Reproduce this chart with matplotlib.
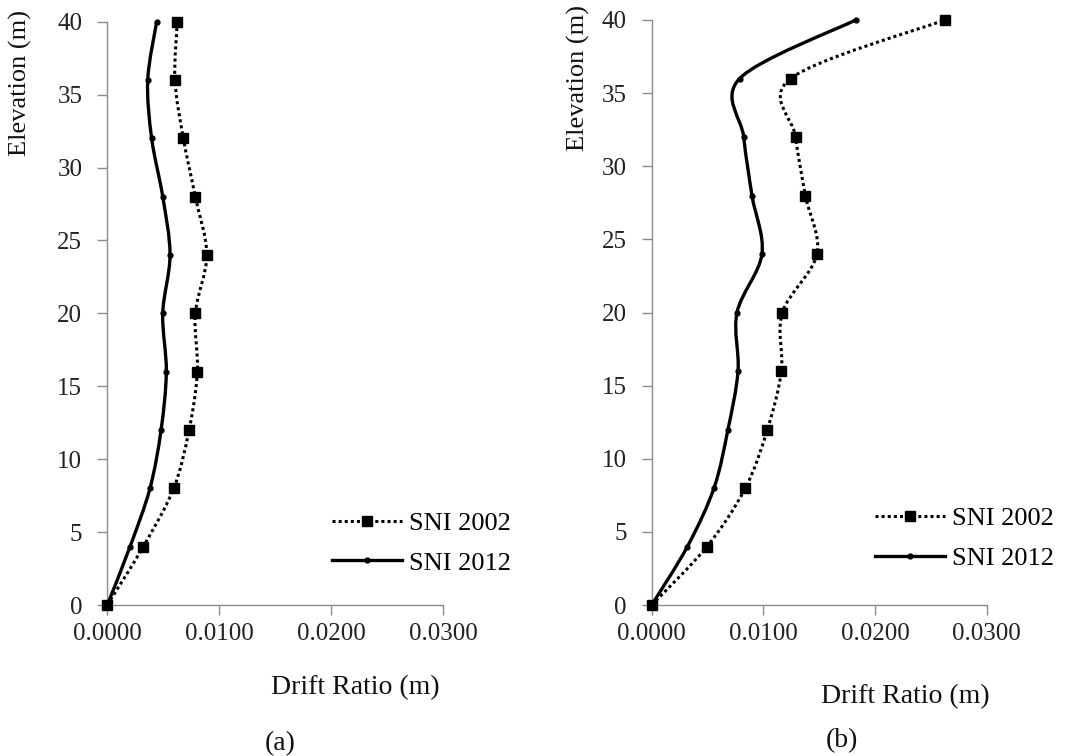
import numpy as np
import matplotlib
matplotlib.use("Agg")
import matplotlib.pyplot as plt
from matplotlib.path import Path
from matplotlib.patches import PathPatch
from matplotlib.lines import Line2D

# ---------------- data ----------------
elevation = [0, 4, 8, 12, 16, 20, 24, 28, 32, 36, 40]

a_sni2002 = [0.0, 0.00321, 0.00593, 0.00730, 0.00804, 0.00786, 0.00888, 0.00786, 0.00679, 0.00604, 0.00625]
a_sni2012 = [0.0, 0.00203, 0.00381, 0.00480, 0.00527, 0.00495, 0.00560, 0.00495, 0.00396, 0.00361, 0.00441]

b_sni2002 = [0.0, 0.00495, 0.00839, 0.01036, 0.01161, 0.01170, 0.01480, 0.01376, 0.01289, 0.01244, 0.02623]
b_sni2012 = [0.0, 0.00320, 0.00558, 0.00683, 0.00773, 0.00764, 0.00987, 0.00898, 0.00824, 0.00788, 0.01826]

x_ticks = [0.0, 0.01, 0.02, 0.03]
x_tick_labels = ["0.0000", "0.0100", "0.0200", "0.0300"]
y_ticks = [0, 5, 10, 15, 20, 25, 30, 35, 40]
series_labels = ["SNI 2002", "SNI 2012"]
xlabel = "Drift Ratio (m)"
ylabel = "Elevation (m)"
panel_labels = ["(a)", "(b)"]

FONT = "Liberation Serif"
W, H = 1068, 756


def smooth_path(xs, ys):
    pts = np.column_stack([xs, ys]).astype(float)
    n = len(pts)
    verts = [pts[0]]
    codes = [Path.MOVETO]
    for i in range(n - 1):
        p0 = pts[i - 1] if i > 0 else pts[i]
        p1 = pts[i]
        p2 = pts[i + 1]
        p3 = pts[i + 2] if i + 2 < n else pts[i + 1]
        c1 = p1 + (p2 - p0) / 6.0
        c2 = p2 - (p3 - p1) / 6.0
        verts += [c1, c2, p2]
        codes += [Path.CURVE4] * 3
    return Path(verts, codes)


DOT = (0, (1, 1))
LW_DOT = 2.2
LW_SOLID = 2.4
MS_SQ = 6.5
MS_CI = 3.5

fig = plt.figure(figsize=(W / 100, H / 100), dpi=100)


def px(x):
    return x / W


def py(y):
    return 1 - y / H


def make_panel(rect, s2002, s2012, leg_x, leg_y):
    ax = fig.add_axes(rect)
    ax.set_xlim(0, 0.03)
    ax.set_ylim(0, 40)
    # smoothed lines
    p1 = PathPatch(smooth_path(s2002, elevation), fill=False, edgecolor="black",
                   linewidth=LW_DOT, linestyle=DOT, clip_on=False, zorder=3)
    p2 = PathPatch(smooth_path(s2012, elevation), fill=False, edgecolor="black",
                   linewidth=LW_SOLID, linestyle="-", clip_on=False, zorder=3)
    ax.add_patch(p1)
    ax.add_patch(p2)
    ax.plot(s2002, elevation, linestyle="none", marker="s", markersize=MS_SQ,
            color="black", clip_on=False, zorder=4)
    ax.plot(s2012, elevation, linestyle="none", marker="o", markersize=MS_CI,
            color="black", clip_on=False, zorder=4)

    for sp in ["top", "right"]:
        ax.spines[sp].set_visible(False)
    for sp in ["left", "bottom"]:
        ax.spines[sp].set_color("#8c8c8c")
        ax.spines[sp].set_linewidth(1.0)
    ax.set_xticks(x_ticks)
    ax.set_xticklabels(x_tick_labels)
    ax.set_yticks(y_ticks)
    ax.tick_params(axis="both", direction="out", length=7, width=1.0,
                   color="#8c8c8c", labelcolor="#222222", labelsize=18)
    ax.tick_params(axis="y", pad=11)
    ax.tick_params(axis="x", pad=6)
    for lab in ax.get_xticklabels() + ax.get_yticklabels():
        lab.set_fontfamily(FONT)

    handles = [
        Line2D([], [], color="black", linestyle=DOT, linewidth=LW_DOT,
               marker="s", markersize=MS_SQ),
        Line2D([], [], color="black", linestyle="-", linewidth=LW_SOLID,
               marker="o", markersize=MS_CI),
    ]
    ax.legend(handles, series_labels, loc="center left",
              bbox_to_anchor=(px(leg_x), py(leg_y)), bbox_transform=fig.transFigure,
              frameon=False, borderpad=0, borderaxespad=0, handlelength=2.65,
              handletextpad=0.25, labelspacing=0.62, numpoints=1,
              prop={"family": FONT, "size": 19})
    return ax


bottom = py(605)
ax_a = make_panel([px(107.3), bottom, 336 / W, (605 - 21.7) / H],
                  a_sni2002, a_sni2012, 332, 543)
ax_b = make_panel([px(651.7), bottom, 335 / W, (605 - 20) / H],
                  b_sni2002, b_sni2012, 875, 538.5)

# axis titles
fig.text(px(355), py(694), xlabel, ha="center", va="baseline",
         fontfamily=FONT, fontsize=20, color="#111111")
fig.text(px(905), py(703), xlabel, ha="center", va="baseline",
         fontfamily=FONT, fontsize=20, color="#111111")
fig.text(px(20), py(83), ylabel, ha="center", va="center", rotation=90,
         fontfamily=FONT, fontsize=19, color="#111111")
fig.text(px(578), py(78), ylabel, ha="center", va="center", rotation=90,
         fontfamily=FONT, fontsize=19, color="#111111")

# panel labels
fig.text(px(280), py(750), panel_labels[0], ha="center", va="baseline",
         fontfamily=FONT, fontsize=20, color="#111111")
fig.text(px(842), py(747), panel_labels[1], ha="center", va="baseline",
         fontfamily=FONT, fontsize=20, color="#111111")

fig.savefig("out.png", dpi=100)
